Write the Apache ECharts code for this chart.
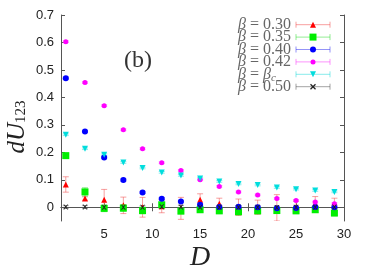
<!DOCTYPE html>
<html><head><meta charset="utf-8">
<script src="https://cdn.jsdelivr.net/npm/echarts@6/dist/echarts.min.js"></script>
<style>html,body{margin:0;padding:0;background:#fff}#c{width:374px;height:273px}</style>
</head><body><div id="c"></div>
<script>
const D = [1,3,5,7,9,11,13,15,17,19,21,23,25,27,29];
const u030 = [0.083,0.032,0.027,0.007,0.000,0.004,-0.004,0.027,0.013,0.000,0.000,-0.002,0.000,0.013,0.008];
const e030 = [0.028,0.006,0.038,0.030,0.036,0.024,0.040,0.022,0.020,0.030,0.026,0.048,0.022,0.026,0.025];
const u035 = [0.188,0.056,-0.004,-0.003,-0.012,0.009,-0.014,-0.009,-0.013,-0.016,-0.013,-0.012,-0.013,-0.009,-0.021];
const e035 = [0.006,0.015,0.012,0.012,0.012,0.010,0.010,0.008,0.010,0.012,0.010,0.010,0.010,0.010,0.010];
const u040 = [0.470,0.276,0.181,0.099,0.054,0.031,0.021,0.009,0.001,0.002,0.000,-0.004,-0.003,0.001,0.000];
const e040 = [0.004,0.004,0.004,0.004,0.004,0.004,0.004,0.004,0.004,0.004,0.004,0.004,0.004,0.004,0.004];
const u042 = [0.603,0.454,0.370,0.282,0.213,0.162,0.134,0.100,0.076,0.056,0.045,0.032,0.025,0.019,0.013];
const e042 = [0.003,0.003,0.003,0.003,0.003,0.003,0.003,0.003,0.003,0.003,0.003,0.003,0.003,0.003,0.003];
const uBc  = [0.264,0.213,0.191,0.163,0.143,0.127,0.116,0.105,0.094,0.085,0.081,0.072,0.066,0.061,0.056];
const eBc  = [0.003,0.003,0.003,0.003,0.003,0.003,0.003,0.003,0.003,0.003,0.003,0.003,0.003,0.003,0.003];
const u050 = [0.001,0.001,0.000,0.000,0.000,0.002,0.001,0.000,0.000,0.000,0.000,-0.001,0.000,0.000,0.001];
const e050 = [0.005,0.005,0.005,0.005,0.005,0.005,0.005,0.005,0.005,0.005,0.005,0.005,0.005,0.005,0.005];
const xTicks = [5,10,15,20,25,30];
const yTicks = [0,0.1,0.2,0.3,0.4,0.5,0.6,0.7];
const legendLabels = ['0.30','0.35','0.40','0.42','c','0.50'];

const X_MARK = 'path://M0,0 L2,0 L5,3 L8,0 L10,0 L6,5 L10,10 L8,10 L5,7 L2,10 L0,10 L4,5 Z';
const sets = [
  {u:u030,e:e030,color:'#ff0000',bar:'rgba(240,80,80,0.55)',symbol:'triangle',size:6,rot:0},
  {u:u035,e:e035,color:'#00ee00',bar:'rgba(60,220,60,0.55)',symbol:'rect',size:7,rot:0},
  {u:u040,e:e040,color:'#0000ff',bar:'rgba(60,60,240,0.55)',symbol:'circle',size:6,rot:0},
  {u:u042,e:e042,color:'#ff00ff',bar:'rgba(250,60,250,0.55)',symbol:'circle',size:5,rot:0},
  {u:uBc,e:eBc,color:'#00dddd',bar:'rgba(40,220,220,0.55)',symbol:'triangle',size:6,rot:180},
  {u:u050,e:e050,color:'#222222',bar:'rgba(90,90,90,0.55)',symbol:X_MARK,size:5,rot:0}
];

const series = [];
sets.forEach(s=>{
  const data = D.map((d,i)=>[d,s.u[i],s.e[i]]);
  series.push({
    type:'custom', clip:true, silent:true, z:2,
    data: data,
    encode:{x:0,y:1},
    renderItem:function(params, api){
      const x=api.value(0), y=api.value(1), e=api.value(2);
      const t=api.coord([x,y+e]), b=api.coord([x,y-e]);
      const w=3;
      const st={stroke:s.bar,lineWidth:1};
      return {type:'group',children:[
        {type:'line',shape:{x1:t[0],y1:t[1],x2:b[0],y2:b[1]},style:st},
        {type:'line',shape:{x1:t[0]-w,y1:t[1],x2:t[0]+w,y2:t[1]},style:st},
        {type:'line',shape:{x1:b[0]-w,y1:b[1],x2:b[0]+w,y2:b[1]},style:st}
      ]};
    }
  });
  series.push({
    type:'scatter', z:3, silent:true,
    data: data.map(p=>[p[0],p[1]]),
    symbol:s.symbol, symbolSize:s.size, symbolRotate:s.rot,
    itemStyle:{color:s.color, opacity:1}
  });
});

const serif = '"Liberation Serif","DejaVu Serif",serif';
const graphics = [];
const legTop = 24.7, legStep = 12.4, textLeft = 238, l1 = 296, l2 = 330;
sets.forEach((s,i)=>{
  const y = legTop + legStep*i;
  const lbl = legendLabels[i]==='c' ? '{i|β} = {i|β}{s|c}' : '{i|β} = ' + legendLabels[i];
  graphics.push({type:'text', x:textLeft, y:y, style:{text:lbl, align:'left', verticalAlign:'middle',
    font:'16px '+serif, fill:'#666', rich:{i:{fontStyle:'italic',fontSize:16,fontFamily:serif,fill:'#666'},
    s:{fontSize:11,fontStyle:'italic',fontFamily:serif,fill:'#666',padding:[8,0,0,0]}}}});
  const st={stroke:s.bar,lineWidth:1};
  graphics.push({type:'line',shape:{x1:l1,y1:y,x2:l2,y2:y},style:st});
  graphics.push({type:'line',shape:{x1:l1,y1:y-3,x2:l1,y2:y+3},style:st});
  graphics.push({type:'line',shape:{x1:l2,y1:y-3,x2:l2,y2:y+3},style:st});
  const x=(l1+l2)/2;
  if (s.symbol==='circle') graphics.push({type:'circle', shape:{cx:x,cy:y,r:s.size/2}, style:{fill:s.color}});
  else if (s.symbol==='rect') graphics.push({type:'rect', shape:{x:x-s.size/2,y:y-s.size/2,width:s.size,height:s.size}, style:{fill:s.color}});
  else if (s.symbol==='triangle') {
    const h=s.size/2;
    const pts = s.rot? [[x-h,y-h],[x+h,y-h],[x,y+h]] : [[x,y-h],[x+h,y+h],[x-h,y+h]];
    graphics.push({type:'polygon', shape:{points:pts}, style:{fill:s.color}});
  } else {
    const h=2.5;
    graphics.push({type:'line', shape:{x1:x-h,y1:y-h,x2:x+h,y2:y+h}, style:{stroke:s.color,lineWidth:1.3}});
    graphics.push({type:'line', shape:{x1:x-h,y1:y+h,x2:x+h,y2:y-h}, style:{stroke:s.color,lineWidth:1.3}});
  }
});

graphics.push({type:'text', x:138, y:61, style:{text:'(b)', align:'center', verticalAlign:'middle', font:'24px '+serif, fill:'#333'}});
graphics.push({type:'text', x:200, y:258, style:{text:'D', align:'center', verticalAlign:'middle', font:'italic 28px '+serif, fill:'#222'}});
graphics.push({type:'text', x:17, y:127, rotation:Math.PI/2, style:{text:'{i|dU}{s|123}', align:'center', verticalAlign:'middle',
  rich:{i:{fontStyle:'italic',fontSize:25,fontFamily:serif,fill:'#222'}, s:{fontSize:15,fontFamily:serif,fill:'#222',padding:[9,0,0,0]}}}});

const chart = echarts.init(document.getElementById('c'), null, {renderer:'canvas'});
const axisLine = {show:true, lineStyle:{color:'#555', width:1}};
const tick = {show:true, inside:true, length:4, lineStyle:{color:'#555'}};
const labelStyle = {color:'#222', fontSize:13, fontFamily:'"Liberation Sans",Arial,sans-serif'};
chart.setOption({
  animation:false,
  grid:{left:61, right:30, top:15, bottom:52, containLabel:false},
  xAxis:[
    {type:'value', min:0.5, max:30, position:'bottom', axisLine:axisLine,
     axisTick:Object.assign({customValues:xTicks},tick),
     axisLabel:Object.assign({customValues:xTicks, margin:7},labelStyle), splitLine:{show:false}},
    {type:'value', min:0.5, max:30, position:'top', axisLine:axisLine,
     axisTick:Object.assign({customValues:xTicks},tick),
     axisLabel:{show:false}, splitLine:{show:false}}
  ],
  yAxis:[
    {type:'value', min:-0.05, max:0.7, position:'left', axisLine:axisLine,
     axisTick:Object.assign({customValues:yTicks},tick),
     axisLabel:Object.assign({customValues:yTicks, margin:7, formatter:v=>Math.abs(v)<1e-9?'0':v.toFixed(1)},labelStyle), splitLine:{show:false}},
    {type:'value', min:-0.05, max:0.7, position:'right', axisLine:axisLine,
     axisTick:Object.assign({customValues:yTicks},tick),
     axisLabel:{show:false}, splitLine:{show:false}}
  ],
  series: series,
  graphic: graphics
});
</script>
</body></html>
